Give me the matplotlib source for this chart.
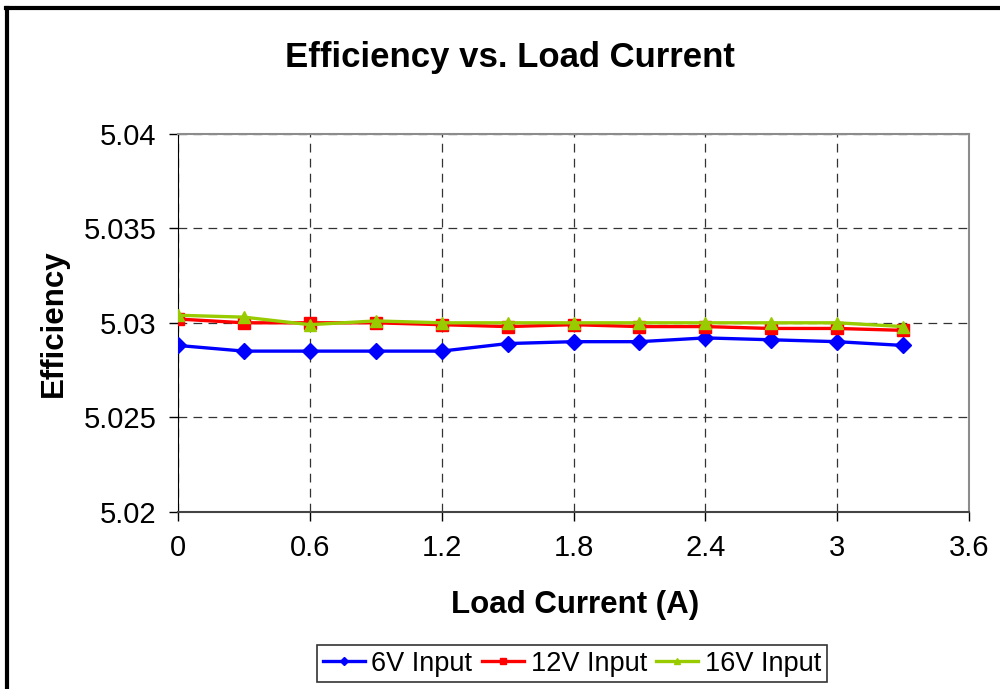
import matplotlib
matplotlib.use("Agg")
import matplotlib.pyplot as plt
from matplotlib.lines import Line2D

plt.rcParams["font.family"] = ["Liberation Sans", "DejaVu Sans"]

# ── Data ─────────────────────────────────────────────────────────────────
load_current = [0.0, 0.3, 0.6, 0.9, 1.2, 1.5, 1.8, 2.1, 2.4, 2.7, 3.0, 3.3]
eff_6v  = [5.0288, 5.0285, 5.0285, 5.0285, 5.0285, 5.0289,
           5.0290, 5.0290, 5.0292, 5.0291, 5.0290, 5.0288]
eff_12v = [5.0302, 5.0300, 5.0300, 5.0300, 5.0299, 5.0298,
           5.0299, 5.0298, 5.0298, 5.0297, 5.0297, 5.0296]
eff_16v = [5.0304, 5.0303, 5.0299, 5.0301, 5.0300, 5.0300,
           5.0300, 5.0300, 5.0300, 5.0300, 5.0300, 5.0298]

x_ticks = [0, 0.6, 1.2, 1.8, 2.4, 3.0, 3.6]
x_tick_labels = ["0", "0.6", "1.2", "1.8", "2.4", "3", "3.6"]
y_ticks = [5.02, 5.025, 5.03, 5.035, 5.04]
y_tick_labels = ["5.02", "5.025", "5.03", "5.035", "5.04"]

series = [
    ("6V Input",  eff_6v,  "#0000FF", "D", 8),
    ("12V Input", eff_12v, "#FF0000", "s", 9),
    ("16V Input", eff_16v, "#99CC00", "^", 9),
]

# ── Figure ───────────────────────────────────────────────────────────────
fig = plt.figure(figsize=(10, 6.89), dpi=100, facecolor="white")
ax = fig.add_axes([0.178, 0.2575, 0.791, 0.548])

for label, vals, col, mk, ms in series:
    ax.plot(load_current, vals, color=col, lw=2.4, marker=mk, ms=ms,
            markeredgecolor=col, label=label, zorder=3)

ax.set_xlim(0, 3.6)
ax.set_ylim(5.02, 5.04)
ax.set_xticks(x_ticks)
ax.set_xticklabels(x_tick_labels)
ax.set_yticks(y_ticks)
ax.set_yticklabels(y_tick_labels)
ax.tick_params(direction="out", length=6.5, width=1, labelsize=21, pad=9,
               color="black")
ax.tick_params(axis="x", pad=10)

ax.grid(True, color="#333333", linestyle=(0, (7, 5)), linewidth=0.9, zorder=0)

ax.spines["top"].set_color("#8c8c8c")
ax.spines["right"].set_color("#8c8c8c")
ax.spines["top"].set_linewidth(1.5)
ax.spines["right"].set_linewidth(1.5)
ax.spines["left"].set_color("black")
ax.spines["bottom"].set_color("#444444")
ax.spines["bottom"].set_linewidth(1.5)

fig.text(0.51, 0.917, "Efficiency vs. Load Current", ha="center", va="center",
         fontsize=25, fontweight="bold")
fig.text(0.575, 0.122, "Load Current (A)", ha="center", va="center",
         fontsize=22.5, fontweight="bold")
fig.text(0.054, 0.531, "Efficiency", ha="center", va="center",
         fontsize=22.5, fontweight="bold", rotation=90)

# outer chart frame (left and top edges visible)
fig.add_artist(Line2D([0.007, 0.007], [0.0, 0.989], color="black", lw=3,
                      transform=fig.transFigure))
fig.add_artist(Line2D([0.006, 1.0], [0.989, 0.989], color="black", lw=3,
                      transform=fig.transFigure))

leg = fig.legend(loc="center", bbox_to_anchor=(0.572, 0.037), ncol=3,
                 fontsize=19.5, frameon=True, fancybox=False, edgecolor="black",
                 handlelength=1.55, handletextpad=0.25, columnspacing=0.35,
                 borderpad=0.2, markerscale=0.55)
leg.get_frame().set_linewidth(1.2)

fig.savefig("out.png", dpi=100, facecolor="white")
